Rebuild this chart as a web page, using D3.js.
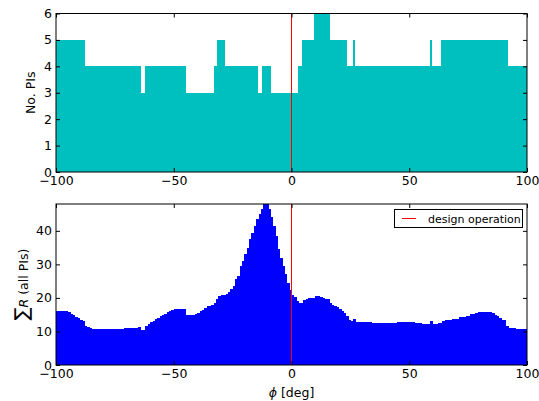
<!DOCTYPE html>
<html><head><meta charset="utf-8">
<script src="https://cdn.jsdelivr.net/npm/d3@7"></script>
<style>body{margin:0;background:#fff}svg{display:block}text{font-family:"DejaVu Sans",sans-serif;fill:#000}</style>
</head><body><svg id="c" width="539" height="401"></svg>
<script>
// Top panel: number of PIs, step histogram (edges in deg, counts)
const countEdges = [-100,-88,-64,-62,-45,-33,-31.5,-28.7,-14.3,-12.5,-8.8,2.6,4.4,9.5,16.3,23.5,26.1,26.8,58.8,59.5,63.3,91.5,100];
const countValues = [5,4,3,4,3,4,5,4,3,4,3,4,5,6,5,4,5,4,5,4,5,4];
// Bottom panel: sum of R, one value per 1-degree bin starting at -100
const sumStart = -100;
const sumValues = [
 16,16,16,16,16,15.7,15.3,14.9,14.4,14.0, // -100..-91
 13.5,13.0,11.5,11.2,11.0,10.8,10.8,10.8,10.8,10.8, // -90..-81
 10.8,10.8,10.8,10.8,10.8,10.8,10.8,10.8,10.8,11.1, // -80..-71
 11.1,11.1,11.1,11.1,11.1,11.4,10.3,10.3,11.7,12.2, // -70..-61
 12.7,13.1,13.6,14.0,14.5,15.0,15.3,15.7,16.1,16.5, // -60..-51
 16.8,16.8,16.8,16.6,16.6,15.0,15.0,15.0,15.0,15.3, // -50..-41
 15.6,16.1,16.5,17.0,17.5,17.7,18.0,18.5,19.8,20.6, // -40..-31
 21.0,21.0,21.2,21.8,22.6,23.5,25.5,26.5,29.5,31.0, // -30..-21
 33.0,35.0,37.5,39.5,41.5,43.5,45.0,46.5,48.0,48.0, // -20..-11
 46.5,44.0,41.5,38.5,34.5,32.0,29.5,27.0,24.5,22.5, // -10..-1
 21.0,20.2,19.2,18.4,18.6,19.5,19.8,19.9,20.1,20.1, // 0..9
 20.7,20.6,20.4,20.1,19.8,19.8,18.5,17.9,17.5,17.2, // 10..19
 16.8,16.1,15.5,14.5,13.5,13.2,13.8,12.9,12.9,12.9, // 20..29
 12.9,12.9,12.9,12.9,12.6,12.6,12.6,12.6,12.6,12.6, // 30..39
 12.6,12.6,12.6,12.6,12.6,12.9,12.9,12.9,12.9,12.9, // 40..49
 12.9,12.9,12.6,12.6,12.6,12.2,12.2,12.2,12.2,13.0, // 50..59
 12.2,12.2,12.5,12.5,13.2,13.5,13.5,13.5,13.8,13.8, // 60..69
 13.8,14.3,14.3,14.3,14.7,14.7,15.3,15.3,15.6,15.9, // 70..79
 15.9,15.9,15.9,15.9,15.9,15.5,15.0,14.5,13.9,13.3, // 80..89
 13.3,11.5,11.1,11.1,11.1,10.8,10.8,10.8,10.8,10.8  // 90..99
];
const xTicks = [-100,-50,0,50,100];
const countTicks = [0,1,2,3,4,5,6];
const sumTicks = [0,10,20,30,40];
const designPhi = 0;

const svg = d3.select("#c");
const L = 56, R = 527;
const x = d3.scaleLinear().domain([-100,100]).range([L,R]);
const top1 = 13.5, bot1 = 172, top2 = 204, bot2 = 365;
const y1 = d3.scaleLinear().domain([0,6]).range([bot1,top1]);
const y2 = d3.scaleLinear().domain([0,48]).range([bot2,top2]);

function clip(top, bot, clipId){
  svg.append("clipPath").attr("id",clipId).append("rect")
    .attr("x",L).attr("y",top).attr("width",R-L).attr("height",bot-top);
}
// top bars
clip(top1, bot1, "c1");
const segs = countValues.map((v,i)=>({a:countEdges[i], b:countEdges[i+1], v}));
svg.append("g").attr("clip-path","url(#c1)").attr("shape-rendering","crispEdges")
  .selectAll("rect").data(segs).join("rect")
  .attr("x",d=>x(d.a)).attr("width",d=>x(d.b)-x(d.a)+0.6)
  .attr("y",d=>y1(d.v)).attr("height",d=>y1(0)-y1(d.v))
  .attr("fill","#00bfbf");
// bottom bars
clip(top2, bot2, "c2");
const bins = sumValues.map((v,i)=>({a:sumStart+i, b:sumStart+i+1, v}));
svg.append("g").attr("clip-path","url(#c2)").attr("shape-rendering","crispEdges")
  .selectAll("rect").data(bins).join("rect")
  .attr("x",d=>x(d.a)).attr("width",d=>x(d.b)-x(d.a)+0.6)
  .attr("y",d=>y2(d.v)).attr("height",d=>y2(0)-y2(d.v))
  .attr("fill","#0000ff");

// design line
[[top1,bot1],[top2,bot2]].forEach(([t,b])=>{
  svg.append("line").attr("x1",x(designPhi)).attr("x2",x(designPhi))
    .attr("y1",t).attr("y2",b).attr("stroke","#ff0000").attr("stroke-width",1);
});

function axes(y, yT, top, bot){
  const fs = "12.5px";
  const ax = svg.append("g").attr("transform",`translate(0,${bot})`)
    .call(d3.axisBottom(x).tickValues(xTicks).tickSize(-4).tickSizeOuter(0).tickPadding(4).tickFormat(d=>d<0?"\u2212"+Math.abs(d):d));
  ax.select(".domain").remove();
  ax.selectAll("text").style("font-size",fs).attr("font-family",null);
  const axT = svg.append("g").attr("transform",`translate(0,${top})`)
    .call(d3.axisTop(x).tickValues(xTicks).tickSize(-4).tickSizeOuter(0).tickFormat(""));
  axT.select(".domain").remove();
  const ay = svg.append("g").attr("transform",`translate(${L},0)`)
    .call(d3.axisLeft(y).tickValues(yT).tickSize(-4).tickSizeOuter(0).tickPadding(4).tickFormat(d3.format("d")));
  ay.select(".domain").remove();
  ay.selectAll("text").style("font-size",fs).attr("font-family",null);
  const ayR = svg.append("g").attr("transform",`translate(${R},0)`)
    .call(d3.axisRight(y).tickValues(yT).tickSize(-4).tickSizeOuter(0).tickFormat(""));
  ayR.select(".domain").remove();
  svg.selectAll(".tick line").attr("stroke","#000");
  svg.append("rect").attr("x",L).attr("y",top).attr("width",R-L).attr("height",bot-top)
    .attr("fill","none").attr("stroke","#000").attr("stroke-width",1);
}
axes(y1, countTicks, top1, bot1);
axes(y2, sumTicks, top2, bot2);

// axis labels
svg.append("text").attr("transform",`translate(35,${(top1+bot1)/2}) rotate(-90)`)
  .attr("text-anchor","middle").style("font-size","12.5px").text("No. PIs");
const yl = svg.append("text").attr("transform",`translate(28,${(top2+bot2)/2}) rotate(-90)`)
  .attr("text-anchor","middle").style("font-size","12.5px");
yl.append("tspan").style("font-size","19px").text("\u2211");
yl.append("tspan").style("font-style","italic").text("R");
yl.append("tspan").text(" (all PIs)");
const xl = svg.append("text").attr("x",x(0)).attr("y",397).attr("text-anchor","middle").style("font-size","12.5px");
xl.append("tspan").style("font-style","italic").text("\u03d5");
xl.append("tspan").text(" [deg]");

// legend
const lg = svg.append("g");
lg.append("rect").attr("x",394.5).attr("y",209.5).attr("width",128).attr("height",18)
  .attr("fill","#fff").attr("stroke","#000");
lg.append("line").attr("x1",402).attr("x2",416).attr("y1",218.5).attr("y2",218.5).attr("stroke","#ff0000");
lg.append("text").attr("x",428).attr("y",222.5).style("font-size","11px").text("design operation");
</script></body></html>
